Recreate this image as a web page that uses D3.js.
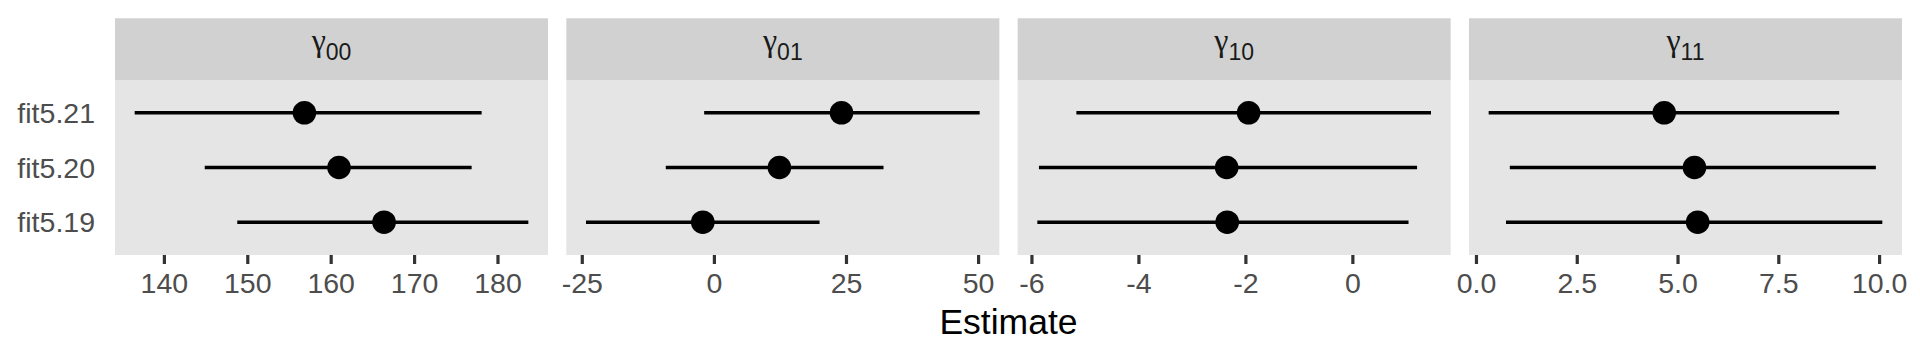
<!DOCTYPE html>
<html>
<head>
<meta charset="utf-8">
<script src="https://cdn.jsdelivr.net/npm/d3@7"></script>
<style>
  html, body { margin: 0; padding: 0; background: #ffffff; }
  svg { display: block; }
</style>
</head>
<body>
<svg id="chart" width="1920" height="360"></svg>
<script>
// ---- data ----
const models = ["fit5.19", "fit5.20", "fit5.21"];
const paramSymbol = ["γ", "γ", "γ", "γ"];
const paramSub = ["00", "01", "10", "11"];

const est00 = [166.4, 161.0, 156.85];
const lo00  = [148.8, 144.9, 136.5];
const hi00  = [183.7, 176.9, 178.1];

const est01 = [-2.1, 12.4, 24.15];
const lo01  = [-24.2, -9.1, -1.84];
const hi01  = [20.0, 32.1, 50.3];

const est10 = [-2.34, -2.35, -1.94];
const lo10  = [-5.89, -5.86, -5.16];
const hi10  = [1.05, 1.21, 1.47];

const est11 = [5.50, 5.42, 4.67];
const lo11  = [0.745, 0.84, 0.315];
const hi11  = [10.08, 9.92, 9.01];

const ticks00 = [140, 150, 160, 170, 180];
const ticks01 = [-25, 0, 25, 50];
const ticks10 = [-6, -4, -2, 0];
const ticks11 = [0, 2.5, 5, 7.5, 10];
const tickLabels11 = ["0.0", "2.5", "5.0", "7.5", "10.0"];

const xTitle = "Estimate";

// ---- build panels from arrays ----
const panels = [
  { est: est00, lo: lo00, hi: hi00, ticks: ticks00, fmt: d => String(d) },
  { est: est01, lo: lo01, hi: hi01, ticks: ticks01, fmt: d => String(d) },
  { est: est10, lo: lo10, hi: hi10, ticks: ticks10, fmt: d => String(d) },
  { est: est11, lo: lo11, hi: hi11, ticks: ticks11, fmt: (d, i) => tickLabels11[i] }
];

// ---- layout ----
const W = 1920, H = 360;
const plotLeft = 115, plotRight = 1902;
const stripTop = 18.3, stripBottom = 80, panelBottom = 255;
const gap = 18.3;
const nP = panels.length;
const pw = (plotRight - plotLeft - gap * (nP - 1)) / nP;

const svg = d3.select("#chart");
const font = "'Liberation Sans', Arial, Helvetica, sans-serif";

// y scale (discrete, ggplot expansion 0.6)
const yScale = d3.scalePoint()
  .domain(models)
  .range([panelBottom, stripBottom])
  .padding(0.6);

panels.forEach((p, i) => {
  const x0 = plotLeft + i * (pw + gap);
  const x1 = x0 + pw;
  const mn = d3.min(p.lo), mx = d3.max(p.hi);
  const ex = (mx - mn) * 0.05;
  const xScale = d3.scaleLinear().domain([mn - ex, mx + ex]).range([x0, x1]);

  const g = svg.append("g");

  // strip
  g.append("rect")
    .attr("x", x0).attr("y", stripTop)
    .attr("width", pw).attr("height", stripBottom - stripTop)
    .attr("fill", "#D1D1D1");
  const st = g.append("text")
    .attr("x", (x0 + x1) / 2).attr("y", 51)
    .attr("text-anchor", "middle")
    .attr("fill", "#1A1A1A");
  st.append("tspan")
    .attr("font-family", "'Liberation Serif', 'DejaVu Serif', serif")
    .attr("font-size", 32)
    .text(paramSymbol[i]);
  st.append("tspan")
    .attr("font-family", font)
    .attr("font-size", 23)
    .attr("dy", 9)
    .text(paramSub[i]);

  // panel background
  g.append("rect")
    .attr("x", x0).attr("y", stripBottom)
    .attr("width", pw).attr("height", panelBottom - stripBottom)
    .attr("fill", "#E5E5E5");

  // x axis
  const axis = d3.axisBottom(xScale)
    .tickValues(p.ticks)
    .tickSize(9)
    .tickPadding(6)
    .tickFormat((d, k) => p.fmt(d, k));
  const ag = g.append("g")
    .attr("transform", `translate(0,${panelBottom})`)
    .call(axis);
  ag.select(".domain").remove();
  ag.selectAll(".tick line").attr("stroke", "#333333").attr("stroke-width", 3.2);
  ag.selectAll(".tick text")
    .attr("fill", "#4D4D4D")
    .attr("font-family", font)
    .attr("font-size", 28.5)
    .attr("dy", null)
    .attr("y", 38);

  // intervals
  models.forEach((m, k) => {
    g.append("line")
      .attr("x1", xScale(p.lo[k])).attr("x2", xScale(p.hi[k]))
      .attr("y1", yScale(m)).attr("y2", yScale(m))
      .attr("stroke", "#000").attr("stroke-width", 3.6);
  });
  models.forEach((m, k) => {
    g.append("circle")
      .attr("cx", xScale(p.est[k])).attr("cy", yScale(m))
      .attr("r", 11.8)
      .attr("fill", "#000");
  });
});

// y axis labels (only once, left)
const yg = svg.append("g");
models.forEach(m => {
  yg.append("text")
    .attr("x", 95).attr("y", yScale(m))
    .attr("dy", "0.36em")
    .attr("text-anchor", "end")
    .attr("fill", "#4D4D4D")
    .attr("font-family", font)
    .attr("font-size", 28.5)
    .text(m);
});

// x title
svg.append("text")
  .attr("x", (plotLeft + plotRight) / 2)
  .attr("y", 334)
  .attr("text-anchor", "middle")
  .attr("fill", "#000")
  .attr("font-family", font)
  .attr("font-size", 35.5)
  .text(xTitle);
</script>
</body>
</html>
